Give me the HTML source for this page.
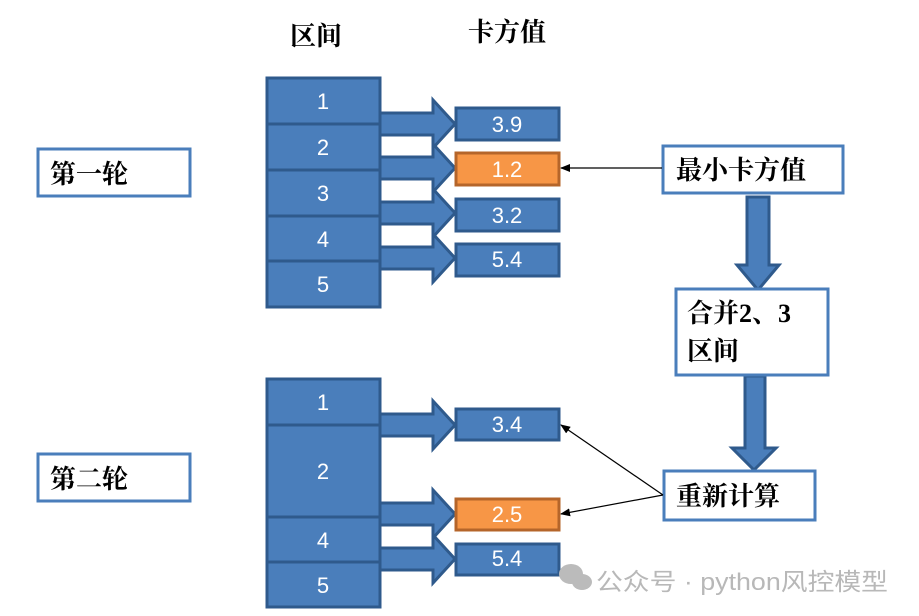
<!DOCTYPE html>
<html><head><meta charset="utf-8"><style>
html,body{margin:0;padding:0;background:#fff;width:919px;height:616px;overflow:hidden}
svg{display:block}
.n{font-family:"Liberation Sans",sans-serif;font-size:22px;fill:#fff;text-anchor:middle}
.c{font-family:"Liberation Serif","Noto Serif CJK SC",serif;font-size:26px;fill:#000;font-weight:bold}
</style></head><body>
<svg width="919" height="616" viewBox="0 0 919 616">
<defs>
<marker id="ah" markerWidth="10" markerHeight="8" refX="9" refY="4" orient="auto" markerUnits="userSpaceOnUse"><path d="M0,0 L10,4 L0,8 Z" fill="#000"/></marker>
</defs>
<g stroke="#2f5a8c" stroke-width="3" fill="#4a7ebb">
<rect x="267" y="78" width="113" height="46"/>
<rect x="267" y="124" width="113" height="46"/>
<rect x="267" y="170" width="113" height="46"/>
<rect x="267" y="216" width="113" height="45"/>
<rect x="267" y="261" width="113" height="46"/>
<path d="M380,113 H433 V100 L455,124 L433,148 V135 H380 Z"/>
<path d="M380,157 H433 V144 L455,168 L433,192 V179 H380 Z"/>
<path d="M380,202 H433 V189 L455,213 L433,237 V224 H380 Z"/>
<path d="M380,247 H433 V234 L455,258 L433,282 V269 H380 Z"/>
<rect x="456" y="108" width="103" height="32"/>
<rect x="456" y="199" width="103" height="32"/>
<rect x="456" y="244" width="103" height="32"/>
<rect x="267" y="379" width="113" height="46"/>
<rect x="267" y="425" width="113" height="92"/>
<rect x="267" y="517" width="113" height="45"/>
<rect x="267" y="562" width="113" height="45"/>
<path d="M380,414 H433 V401 L455,425 L433,449 V436 H380 Z"/>
<path d="M380,503 H433 V490 L455,514 L433,538 V525 H380 Z"/>
<path d="M380,548 H433 V535 L455,559 L433,583 V570 H380 Z"/>
<rect x="456" y="409" width="103" height="31"/>
<rect x="456" y="544" width="103" height="31"/>
<path d="M747,197 H769 V265 H779 L758,290 L737,265 H747 Z"/>
<path d="M745,376 H765 V448 H776 L754,470 L732,448 H745 Z"/>
</g>
<g stroke="#b5652a" stroke-width="3" fill="#f79646">
<rect x="456" y="153" width="103" height="32"/>
<rect x="456" y="499" width="103" height="31"/>
</g>
<g stroke="#4a7ebb" stroke-width="3" fill="#fff">
<rect x="38" y="149" width="152" height="47"/>
<rect x="38" y="454" width="152" height="47"/>
<rect x="663" y="146" width="180" height="47"/>
<rect x="676" y="289" width="152" height="86"/>
<rect x="664" y="471" width="151" height="49"/>
</g>
<g stroke="#000" stroke-width="1.2" fill="none" marker-end="url(#ah)">
<line x1="662" y1="168" x2="561" y2="168"/>
<line x1="663" y1="495" x2="561" y2="425"/>
<line x1="663" y1="495" x2="561" y2="514"/>
</g>
<g class="n">
<text x="323" y="109">1</text><text x="323" y="155">2</text><text x="323" y="201">3</text><text x="323" y="247">4</text><text x="323" y="292">5</text>
<text x="507" y="132">3.9</text><text x="507" y="177">1.2</text><text x="507" y="223">3.2</text><text x="507" y="267">5.4</text>
<text x="323" y="410">1</text><text x="323" y="479">2</text><text x="323" y="548">4</text><text x="323" y="593">5</text>
<text x="507" y="432">3.4</text><text x="507" y="522">2.5</text><text x="507" y="566">5.4</text>
</g>
<g class="c">
<text x="290" y="45">区间</text>
<text x="468" y="41">卡方值</text>
<text x="50" y="183">第一轮</text>
<text x="50" y="488">第二轮</text>
<text x="676" y="179">最小卡方值</text>
<text x="687" y="322">合并2、3</text>
<text x="687" y="360">区间</text>
<text x="676" y="505">重新计算</text>
</g>
<g fill="#bbb">
<ellipse cx="571" cy="574" rx="12" ry="10"/><ellipse cx="582" cy="582" rx="10" ry="8"/>
</g>
<text x="596" y="590" font-family="Liberation Sans,'Noto Sans CJK SC',sans-serif" font-size="24" fill="#b8b8b8" textLength="292" lengthAdjust="spacingAndGlyphs">公众号 · python风控模型</text>
</svg>
</body></html>
